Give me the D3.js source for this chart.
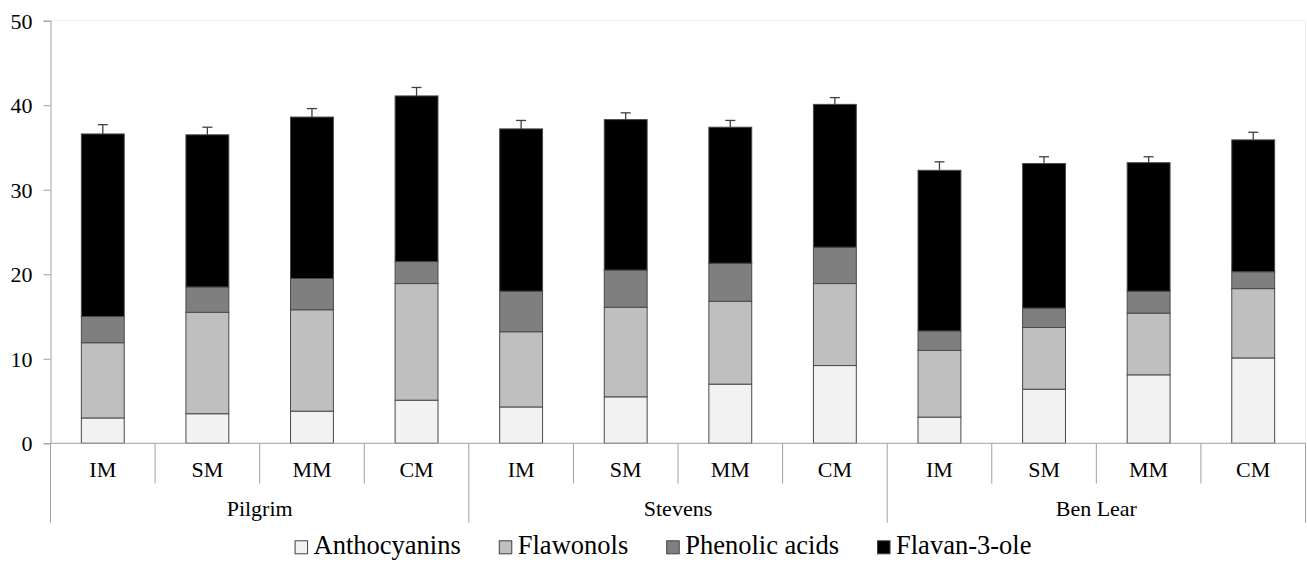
<!DOCTYPE html>
<html>
<head>
<meta charset="utf-8">
<script src="https://cdn.jsdelivr.net/npm/d3@7"></script>
<style>
  html, body { margin: 0; padding: 0; background: #fff; }
  svg { display: block; }
  text { font-family: "Liberation Serif", "Times New Roman", serif; fill: #000; }
</style>
</head>
<body>
<svg id="chart" width="1307" height="563"></svg>
<script>
// ---- data ----
const cultivars = ["Pilgrim", "Stevens", "Ben Lear"];
const stages = ["IM", "SM", "MM", "CM"];
const seriesNames = ["Anthocyanins", "Flawonols", "Phenolic acids", "Flavan-3-ole"];
const anthocyanins = [3.0, 3.5, 3.8, 5.1, 4.3, 5.5, 7.0, 9.2, 3.1, 6.4, 8.1, 10.1];
const flavonols    = [8.9, 12.0, 12.0, 13.8, 8.9, 10.6, 9.8, 9.7, 7.9, 7.3, 7.3, 8.2];
const phenolic     = [3.1, 3.0, 3.7, 2.6, 4.8, 4.4, 4.5, 4.3, 2.3, 2.3, 2.6, 2.0];
const flavan3ol    = [21.6, 18.0, 19.1, 19.6, 19.2, 17.8, 16.1, 16.9, 19.0, 17.1, 15.2, 15.6];
const errors       = [1.1, 0.9, 1.0, 1.0, 1.0, 0.8, 0.8, 0.8, 1.0, 0.8, 0.7, 0.9];
const yTicks = [0, 10, 20, 30, 40, 50];

(function () {
// ---- build table ----
const seriesArrays = [anthocyanins, flavonols, phenolic, flavan3ol];
const rows = [];
cultivars.forEach((c, gi) => stages.forEach((s, si) => {
  const i = gi * stages.length + si;
  const r = { id: i, cultivar: c, stage: s, err: errors[i] };
  seriesNames.forEach((n, k) => r[n] = seriesArrays[k][i]);
  rows.push(r);
}));

const colors = ["#f2f2f2", "#bfbfbf", "#7f7f7f", "#000000"];
const svg = d3.select("#chart");
const pLeft = 50.5, pRight = 1305.5, pTop = 20.7, pBottom = 443.3;

const x = d3.scaleBand().domain(rows.map(d => d.id)).range([pLeft, pRight])
  .paddingInner(0.59).paddingOuter(0.295);
const slot = d3.scaleBand().domain(rows.map(d => d.id)).range([pLeft, pRight]).padding(0);
const y = d3.scaleLinear().domain([0, 50]).range([pBottom, pTop]);

// plot area border (faint)
svg.append("line").attr("x1", pLeft).attr("x2", pRight).attr("y1", pTop).attr("y2", pTop)
  .attr("stroke", "#ececec").attr("stroke-width", 1);
svg.append("line").attr("x1", pRight).attr("x2", pRight).attr("y1", pTop).attr("y2", pBottom)
  .attr("stroke", "#ececec").attr("stroke-width", 1);

// y axis
const yAxis = svg.append("g").attr("transform", `translate(${pLeft},0)`)
  .call(d3.axisLeft(y).tickValues(yTicks).tickSize(7).tickPadding(11).tickFormat(d3.format("d")));
yAxis.select(".domain").attr("stroke", "#a0a0a0");
yAxis.selectAll(".tick line").attr("stroke", "#a0a0a0");
yAxis.selectAll("text").attr("font-size", 22).attr("font-family", "Liberation Serif").attr("fill", "#000")
  .attr("dy", "0.34em");

// stacked bars
const stack = d3.stack().keys(seriesNames)(rows);
svg.append("g").selectAll("g").data(stack).join("g")
  .attr("fill", (d, i) => colors[i])
  .selectAll("rect").data(d => d).join("rect")
  .attr("x", d => x(d.data.id))
  .attr("width", x.bandwidth())
  .attr("y", d => y(d[1]))
  .attr("height", d => y(d[0]) - y(d[1]))
  .attr("stroke", "#4a4a4a").attr("stroke-width", 1);

// error bars
const totals = rows.map(d => seriesNames.reduce((a, n) => a + d[n], 0));
const eg = svg.append("g").attr("stroke", "#404040").attr("stroke-width", 1.3);
rows.forEach((d, i) => {
  const cx = x(d.id) + x.bandwidth() / 2;
  eg.append("line").attr("x1", cx).attr("x2", cx).attr("y1", y(totals[i])).attr("y2", y(totals[i] + d.err));
  eg.append("line").attr("x1", cx - 5).attr("x2", cx + 5).attr("y1", y(totals[i] + d.err)).attr("y2", y(totals[i] + d.err));
});

// x axis baseline
svg.append("line").attr("x1", pLeft).attr("x2", pRight).attr("y1", pBottom).attr("y2", pBottom)
  .attr("stroke", "#a0a0a0");

// category separators and labels
const sepG = svg.append("g").attr("stroke", "#a0a0a0");
rows.forEach((d, i) => {
  const x0 = slot(d.id);
  const isGroupStart = i % stages.length === 0;
  sepG.append("line").attr("x1", x0).attr("x2", x0).attr("y1", pBottom)
    .attr("y2", isGroupStart ? 522.7 : 483.5);
  svg.append("text").attr("x", x0 + slot.bandwidth() / 2).attr("y", 476.7)
    .attr("text-anchor", "middle").attr("font-size", 22).text(d.stage);
});
sepG.append("line").attr("x1", pRight).attr("x2", pRight).attr("y1", pBottom).attr("y2", 522.7);
cultivars.forEach((c, gi) => {
  const a = slot(gi * stages.length);
  const b = slot(gi * stages.length + stages.length - 1) + slot.bandwidth();
  svg.append("text").attr("x", (a + b) / 2).attr("y", 516)
    .attr("text-anchor", "middle").attr("font-size", 22).text(c);
});

// legend
const lg = svg.append("g");
let lx = 0;
seriesNames.forEach((n, i) => {
  const g = lg.append("g").attr("transform", `translate(${lx},0)`);
  g.append("rect").attr("x", 0.5).attr("y", -13.5).attr("width", 12.5).attr("height", 13)
    .attr("fill", colors[i]).attr("stroke", "#404040").attr("stroke-width", 1);
  const t = g.append("text").attr("x", 19).attr("y", 0).attr("font-size", 26.5).text(n);
  lx += 19 + t.node().getComputedTextLength() + 38;
});
const lw = lx - 38;
lg.attr("transform", `translate(${663 - lw / 2},554.3)`);
})();
</script>
</body>
</html>
